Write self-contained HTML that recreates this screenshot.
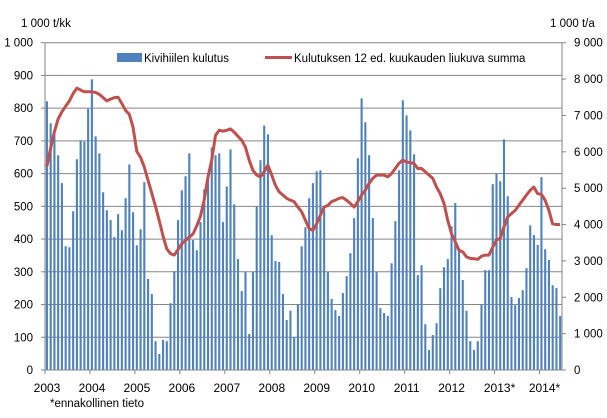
<!DOCTYPE html>
<html><head><meta charset="utf-8"><style>
body{margin:0;background:#fff}
svg{display:block;font-family:"Liberation Sans",sans-serif}
</style></head><body>
<svg id="chart" width="607" height="418" viewBox="0 0 607 418" xmlns="http://www.w3.org/2000/svg">
<g id="grid"></g>
<g id="bars"></g>
<g id="axes"></g>
<g id="line"></g>
<text x="21" y="27" font-size="11.5">1 000 t/kk</text>
<text x="550" y="27" font-size="11.5">1 000 t/a</text>
<g>
<rect x="117" y="53" width="25" height="9" fill="#4f81bd"/>
<text x="144" y="62" font-size="11.5">Kivihiilen kulutus</text>
<line x1="265" y1="57.5" x2="292" y2="57.5" stroke="#c0504d" stroke-width="3"/>
<text x="294" y="62" font-size="11.5">Kulutuksen 12 ed. kuukauden liukuva summa</text>
</g>
<text x="50" y="407" font-size="11.5">*ennakollinen tieto</text>
</svg>
<script>
const years = ["2003","2004","2005","2006","2007","2008","2009","2010","2011","2012","2013*","2014*"];
const leftTicks = ["0","100","200","300","400","500","600","700","800","900","1 000"];
const rightTicks = ["0","1 000","2 000","3 000","4 000","5 000","6 000","7 000","8 000","9 000"];
const consumption = [
821,754,726,656,571,378,375,485,644,702,698,798,
888,714,662,543,488,458,406,476,427,525,628,482,
381,430,574,278,232,88,49,92,88,204,302,458,
549,592,662,397,366,452,552,601,680,656,662,452,
561,674,506,339,241,299,110,299,500,641,747,720,
412,333,330,232,153,181,100,201,378,436,525,571,
607,610,491,299,217,183,165,235,287,357,464,647,
830,757,656,464,299,189,174,165,326,455,610,824,
778,732,659,290,320,140,61,107,143,250,314,339,
439,510,366,275,181,88,61,88,201,305,305,568,
601,577,705,531,223,198,220,244,311,442,412,382,
589,369,336,259,250,165];
const rollingSum = [
5600,6100,6550,6900,7100,7250,7400,7600,7750,7700,7650,7650,
7650,7630,7580,7490,7400,7450,7490,7500,7330,7140,7030,6680,
6010,5850,5580,5220,4860,4500,4100,3690,3330,3200,3160,3310,
3470,3560,3650,3740,3960,4230,4680,5310,5770,6450,6590,6570,
6590,6630,6540,6430,6320,6130,5770,5490,5360,5310,5450,5630,
5360,5080,4900,4810,4720,4670,4630,4480,4350,4120,3890,3840,
4020,4260,4480,4530,4630,4670,4720,4740,4670,4580,4480,4630,
4810,4940,5130,5270,5360,5360,5360,5310,5400,5540,5680,5770,
5720,5700,5680,5540,5540,5450,5360,5270,5030,4850,4580,4120,
3750,3530,3290,3250,3110,3070,3060,3040,3130,3160,3160,3380,
3570,3620,3930,4210,4300,4390,4530,4670,4810,4940,5030,4850,
4830,4670,4390,4020,4000,4000];

const NS="http://www.w3.org/2000/svg";
const X0=45, X1=562, Y0=370, Ytop=42.7;
const monthW=(X1-X0)/138;
const xM=i=>X0+(i+0.5)*monthW;
const yL=v=>Y0-(v/1000)*(Y0-Ytop);
const yR=v=>Y0-(v/9000)*(Y0-Ytop);
function mk(tag,attrs,parent){const e=document.createElementNS(NS,tag);for(const k in attrs)e.setAttribute(k,attrs[k]);parent.appendChild(e);return e;}
const grid=document.getElementById('grid'),bars=document.getElementById('bars'),axes=document.getElementById('axes'),line=document.getElementById('line');
leftTicks.forEach((t,i)=>{
  const y=yL(i*100);
  if(i>0){const g=mk('line',{x1:X0,x2:X1,y1:y,y2:y,stroke:'#868686','stroke-width':1},grid);
  
  }
  const tk=mk('line',{x1:41,x2:X0,y1:y,y2:y,stroke:'#868686'},axes);
  
  
  const lb=mk('text',{x:33,y:y+4,'font-size':11.5,'text-anchor':'end'},axes);
  lb.textContent=t;
  
  
});
rightTicks.forEach((t,i)=>{
  const y=yR(i*1000);
  const tk=mk('line',{x1:X1,x2:X1+4,y1:y,y2:y,stroke:'#868686'},axes);
  
  
  const lb=mk('text',{x:X1+12,y:y+4,'font-size':11.5},axes);
  lb.textContent=t;
  
  
});
consumption.forEach((v,i)=>{
  const r=mk('rect',{x:xM(i)-1,y:yL(v),width:2.1,height:Y0-yL(v),fill:'#4f81bd'},bars);
  
  
});
const la=mk('line',{x1:X0,x2:X0,y1:Ytop,y2:Y0,stroke:'#868686'},axes);


const ra=mk('line',{x1:X1,x2:X1,y1:Ytop,y2:Y0,stroke:'#868686'},axes);


const ba=mk('line',{x1:X0,x2:X1,y1:Y0,y2:Y0,stroke:'#868686'},axes);


years.forEach((yr,i)=>{
  const x=X0+i*12*monthW;
  const tk=mk('line',{x1:x,x2:x,y1:Y0,y2:Y0+4,stroke:'#868686'},axes);
  
  
  const lb=mk('text',{x:x+(yr.length>4?5:2),y:392,'font-size':12,'text-anchor':'middle'},axes);
  lb.textContent=yr;
  
  
});
const p=mk('polyline',{points:rollingSum.map((v,i)=>xM(i).toFixed(1)+','+yR(v).toFixed(1)).join(' '),fill:'none',stroke:'#c0504d','stroke-width':3,'stroke-linejoin':'round'},line);


</script>
</body></html>
